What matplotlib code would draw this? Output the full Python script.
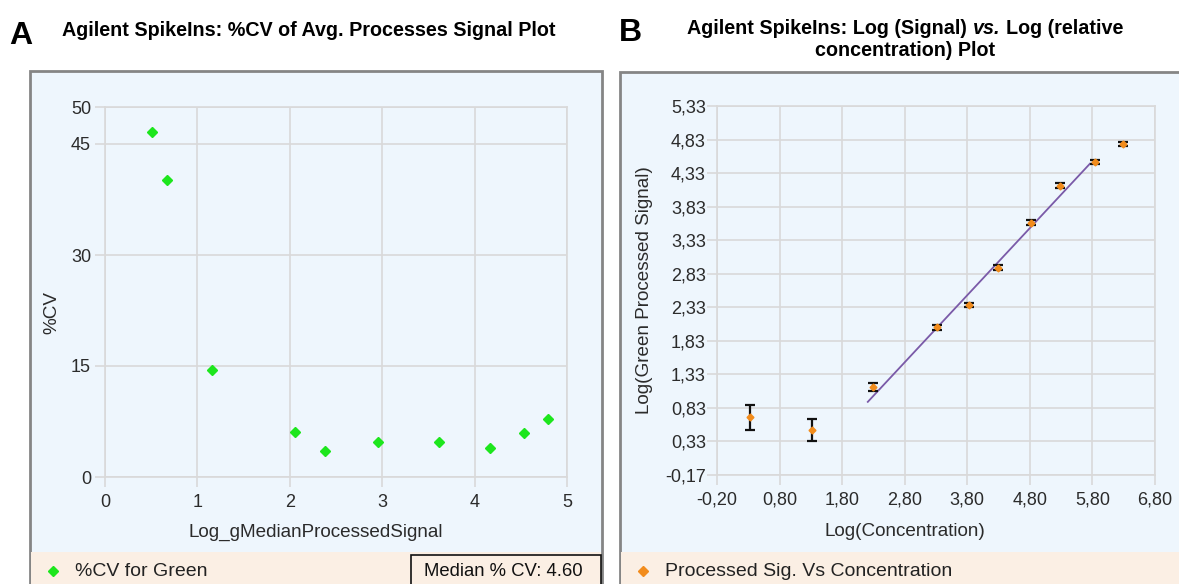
import matplotlib
matplotlib.use('Agg')
import matplotlib.pyplot as plt
from matplotlib.patches import Rectangle

plt.rcParams['font.family'] = ['Liberation Sans', 'DejaVu Sans']

# A: %CV of the spike-ins against log median processed signal
log_signal = [0.51, 0.67, 1.16, 2.06, 2.38, 2.95, 3.61, 4.17, 4.53, 4.79]
cv_green = [46.6, 40.2, 14.4, 6.1, 3.5, 4.7, 4.7, 3.9, 6.0, 7.9]
median_cv = 4.60
a_xticks = [0, 1, 2, 3, 4, 5]
a_yticks = [0, 15, 30, 45, 50]

# B: log processed signal against log relative concentration
log_conc = [0.33, 1.32, 2.29, 3.31, 3.83, 4.29, 4.82, 5.28, 5.84, 6.29]
log_sig = [0.69, 0.50, 1.14, 2.03, 2.36, 2.92, 3.59, 4.14, 4.50, 4.76]
sig_err = [0.19, 0.165, 0.06, 0.035, 0.03, 0.035, 0.04, 0.035, 0.03, 0.03]
fit_x = [2.21, 5.76]
fit_y = [0.92, 4.47]
b_xticks = [-0.2, 0.8, 1.8, 2.8, 3.8, 4.8, 5.8, 6.8]
b_yticks = [-0.17, 0.33, 0.83, 1.33, 1.83, 2.33, 2.83, 3.33, 3.83, 4.33, 4.83, 5.33]

W, H = 1179, 584
BG = '#eef6fd'
LEG = '#fbefe4'
GRID = '#d9d9d9'
FRAME = '#858585'
TXT = '#2b2b2b'
TICK_FS = 13
LAB_FS = 13.6
TITLE_FS = 14.2


def fx(x):
    return x / W


def fy(y):
    return 1 - y / H


fig = plt.figure(figsize=(W / 100, H / 100), dpi=100)

# panel frames and legend strips
for left, right, top in [(30, 602, 71), (620, 1185, 72)]:
    fig.patches.append(Rectangle((fx(left), -0.01), fx(right - left), fy(top) + 0.01,
                                 transform=fig.transFigure, facecolor=BG,
                                 edgecolor=FRAME, linewidth=2, zorder=-2))
    fig.patches.append(Rectangle((fx(left + 1), -0.01), fx(right - left - 2), fy(552) + 0.01,
                                 transform=fig.transFigure, facecolor=LEG,
                                 edgecolor='none', zorder=-1))


def style_axes(ax):
    ax.set_facecolor('none')
    ax.set_zorder(1)
    for s in ax.spines.values():
        s.set_color(GRID)
        s.set_linewidth(1.2)
    ax.grid(True, color=GRID, linewidth=1.2)
    ax.set_axisbelow(True)
    ax.tick_params(colors=GRID, labelcolor=TXT, labelsize=TICK_FS, length=7, width=1.2)


# ---- A ----
axA = fig.add_axes([fx(105), fy(477), fx(567 - 105), (477 - 107) / H])
style_axes(axA)
axA.plot(log_signal, cv_green, linestyle='none', marker='D', ms=5,
         color='#1de61d', markeredgecolor='#1de61d')
axA.set_xlim(0, 5)
axA.set_ylim(0, 50)
axA.set_xticks(a_xticks)
axA.set_yticks(a_yticks)
axA.tick_params(axis='x', pad=5)
axA.tick_params(axis='y', pad=3)

fig.text(fx(52), fy(313), '%CV', rotation=90, ha='center', va='center',
         fontsize=LAB_FS, color=TXT)
fig.text(fx(316), fy(532), 'Log_gMedianProcessedSignal', ha='center', va='center',
         fontsize=LAB_FS, color=TXT)

fig.text(fx(9), fy(36), 'A', fontsize=23, fontweight='bold', va='center', ha='left')
fig.text(fx(62), fy(30), 'Agilent SpikeIns: %CV of Avg. Processes Signal Plot',
         fontsize=TITLE_FS, fontweight='bold', va='center', ha='left')

# legend A
fig.lines.append(plt.Line2D([fx(53)], [fy(571)], transform=fig.transFigure,
                            marker='D', ms=5.5, color='#1de61d', linestyle='none'))
fig.text(fx(75), fy(571), '%CV for Green', fontsize=14, va='center', color='#222222')
fig.patches.append(Rectangle((fx(411), -0.01), fx(601 - 411), fy(555) + 0.01,
                             transform=fig.transFigure, facecolor=LEG,
                             edgecolor='#111111', linewidth=1.2, zorder=2))
fig.text(fx(424), fy(572), 'Median %% CV: %.2f' % median_cv, fontsize=13.3,
         va='center', color='#111111')

# ---- B ----
axB = fig.add_axes([fx(717), fy(475), fx(1155 - 717), (475 - 106) / H])
style_axes(axB)
axB.plot(fit_x, fit_y, color='#7a5aa8', linewidth=1.3, zorder=2)
axB.errorbar(log_conc, log_sig, yerr=sig_err, fmt='D', ms=3.5, color='#f28c1c',
             ecolor='#111111', elinewidth=1.6, capsize=3.5, capthick=1.6, zorder=3)
axB.set_xlim(-0.2, 6.8)
axB.set_ylim(-0.17, 5.33)
axB.set_xticks(b_xticks)
axB.set_yticks(b_yticks)
axB.set_xticklabels([('%.2f' % v).replace('.', ',') for v in b_xticks])
axB.set_yticklabels([('%.2f' % v).replace('.', ',') for v in b_yticks])
axB.tick_params(axis='x', pad=5)
axB.tick_params(axis='y', pad=1)

fig.text(fx(645), fy(290), 'Log(Green Processed Signal)', rotation=90,
         ha='center', va='center', fontsize=LAB_FS, color=TXT)
fig.text(fx(905), fy(531), 'Log(Concentration)', ha='center', va='center',
         fontsize=LAB_FS, color=TXT)

fig.text(fx(619), fy(33), 'B', fontsize=23, fontweight='bold', va='center', ha='left')

# two-line title with italic "vs."
fig.canvas.draw()
rend = fig.canvas.get_renderer()
pieces = [('Agilent SpikeIns: Log (Signal)', 'normal'), ('vs.', 'italic'),
          ('Log (relative', 'normal')]
gap = TITLE_FS * 0.28 * 100 / 72
texts = []
for s, st in pieces:
    texts.append(fig.text(0, fy(29), s, fontsize=TITLE_FS, fontweight='bold',
                          fontstyle=st, va='center', ha='left'))
widths = [t.get_window_extent(rend).width for t in texts]
x = 905 - (sum(widths) + gap * (len(widths) - 1)) / 2
for t, w in zip(texts, widths):
    t.set_x(fx(x))
    x += w + gap
fig.text(fx(905), fy(51), 'concentration) Plot', fontsize=TITLE_FS, fontweight='bold',
         va='center', ha='center')

# legend B
fig.lines.append(plt.Line2D([fx(643)], [fy(571)], transform=fig.transFigure,
                            marker='D', ms=5.5, color='#f28c1c', linestyle='none'))
fig.text(fx(665), fy(571), 'Processed Sig. Vs Concentration', fontsize=14,
         va='center', color='#222222')

fig.savefig('out.png', dpi=100)
